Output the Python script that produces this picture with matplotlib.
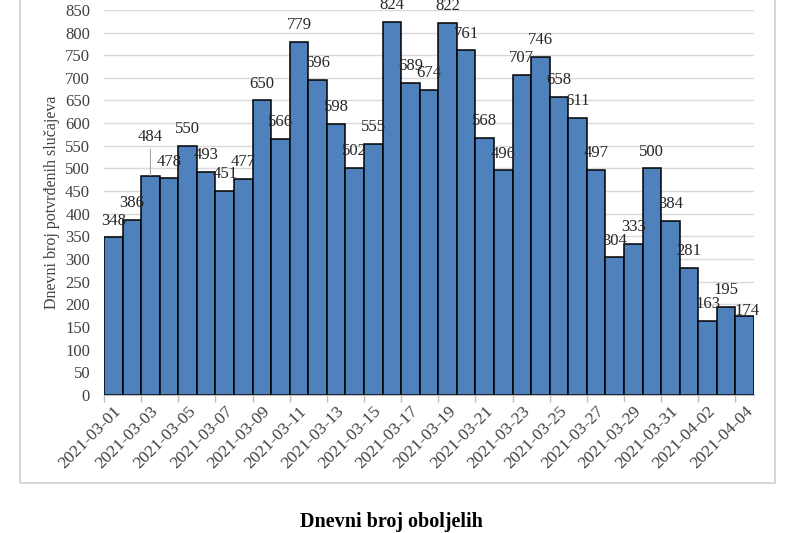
import matplotlib
matplotlib.use("Agg")
import matplotlib.pyplot as plt
from matplotlib.patches import Rectangle
import numpy as np
import pandas as pd

dates = pd.date_range("2021-03-01", "2021-04-04", freq="D").strftime("%Y-%m-%d").tolist()
cases = [348, 386, 484, 478, 550, 493, 451, 477, 650, 566, 779, 696, 598, 502, 555,
         824, 689, 674, 822, 761, 568, 496, 707, 746, 658, 611, 497, 304, 333, 500,
         384, 281, 163, 195, 174]
y_ticks = list(range(0, 851, 50))
title = "Dnevni broj oboljelih"
ylabel = "Dnevni broj potvrđenih slučajeva"

plt.rcParams['font.family'] = ['Liberation Serif', 'DejaVu Serif']
text_color = '#404040'

fig = plt.figure(figsize=(8, 5.33), dpi=100)
# chart border
fig.patches.append(Rectangle((0.025, 0.0938), 0.944, 1.0, transform=fig.transFigure,
                             fill=False, edgecolor='#D0D0D0', linewidth=1.2))
ax = fig.add_axes([0.13, 0.259, 0.8125, 0.7225])

x = np.arange(len(cases))
ax.bar(x, cases, width=1.0, color='#4F81BD', edgecolor='black', linewidth=1.1, zorder=3)
ax.set_xlim(-0.5, len(cases) - 0.5)
ax.set_ylim(0, 850)
ax.set_yticks(y_ticks)
ax.set_yticklabels([str(v) for v in y_ticks], fontsize=12, color=text_color)
ax.yaxis.grid(True, color='#D9D9D9', linewidth=1.0, zorder=0)
ax.tick_params(axis='y', length=0, pad=10)

ax.set_xticks(x[::2])
ax.set_xticklabels([dates[i] for i in range(0, len(dates), 2)], rotation=45, ha='right',
                   va='top', rotation_mode='anchor', fontsize=12.5, color=text_color)
ax.tick_params(axis='x', length=0, pad=6)
ax.set_xticks(np.arange(-0.5, len(cases), 2), minor=True)
ax.tick_params(axis='x', which='minor', length=5, color='#BFBFBF', width=1)

for s in ['top', 'right', 'left']:
    ax.spines[s].set_visible(False)
ax.spines['bottom'].set_color('#BFBFBF')
ax.spines['bottom'].set_zorder(4)

# data labels
special = {2: (0, 28), 34: (2, 4)}
for i, v in enumerate(cases):
    dx, dy = special.get(i, (0, 12))
    ax.annotate(str(v), (x[i], v), xytext=(dx, dy), textcoords='offset points',
                ha='center', va='center', fontsize=12, color='#262626', zorder=5,
                annotation_clip=False)
# leader line for 484 label
ax.annotate('', xy=(x[2], cases[2]), xytext=(0, 19), textcoords='offset points',
            arrowprops=dict(arrowstyle='-', color='#A6A6A6', lw=0.8, shrinkA=0, shrinkB=0))

fig.text(0.065, 0.62, ylabel, rotation=90, ha='center', va='center', fontsize=11.5,
         color=text_color)
fig.text(0.489, 0.02, title, ha='center', va='center', fontsize=14.5, fontweight='bold',
         color='black')

fig.savefig("out.png", dpi=100)
